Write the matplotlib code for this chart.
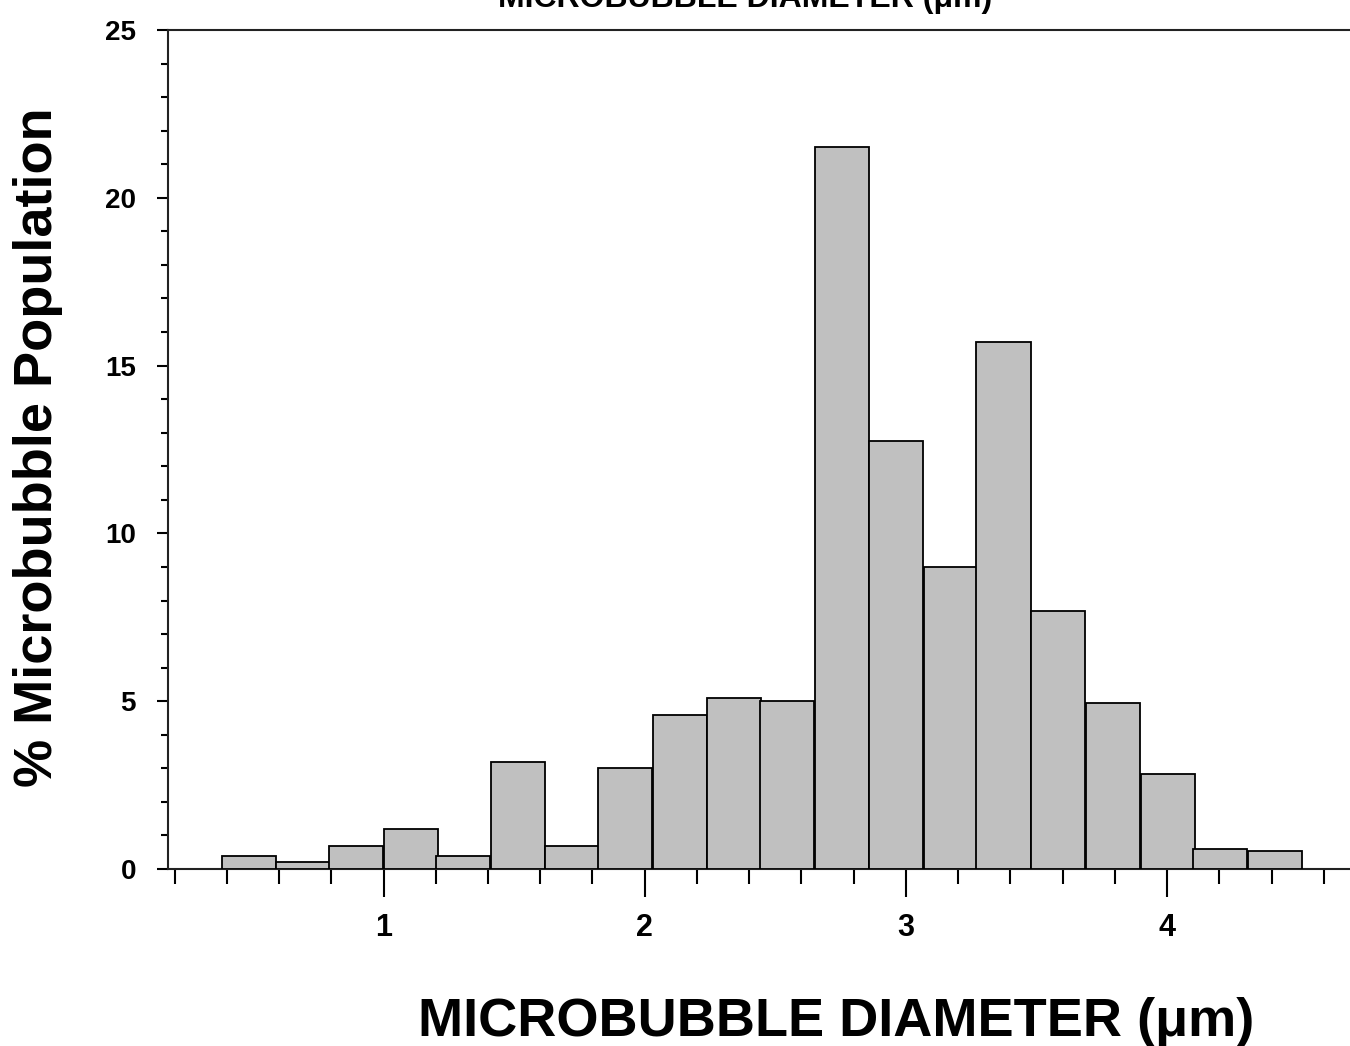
import matplotlib.pyplot as plt
from matplotlib.ticker import MultipleLocator, FixedLocator

# bin left edges (um) and % population
bin_left = [0.38, 0.59, 0.79, 1.00, 1.20, 1.41, 1.62, 1.82, 2.03, 2.24,
            2.44, 2.65, 2.86, 3.07, 3.27, 3.48, 3.69, 3.90, 4.10, 4.31]
population = [0.4, 0.2, 0.7, 1.2, 0.4, 3.2, 0.7, 3.0, 4.6, 5.1,
              5.0, 21.5, 12.75, 9.0, 15.7, 7.7, 4.95, 2.83, 0.6, 0.55]
bin_width = 0.207

x_major = [1, 2, 3, 4]
y_major = [0, 5, 10, 15, 20, 25]

plt.rcParams['font.family'] = ['Liberation Sans', 'DejaVu Sans']
plt.rcParams['font.weight'] = 'bold'

fig = plt.figure(figsize=(13.5, 10.46), dpi=100)
ax = fig.add_axes([168/1350, 1 - 869/1046, 1 - 168/1350, (869 - 30)/1046])

ax.bar(bin_left, population, width=bin_width, align='edge',
       color='#c0c0c0', edgecolor='black', linewidth=1.3, zorder=3)

ax.set_xlim(0.175, 4.70)
ax.set_ylim(0, 25)

ax.xaxis.set_major_locator(FixedLocator(x_major))
ax.xaxis.set_minor_locator(MultipleLocator(0.2))
ax.yaxis.set_major_locator(FixedLocator(y_major))
ax.yaxis.set_minor_locator(MultipleLocator(1))

ax.tick_params(axis='x', which='major', length=20, width=1.5, direction='out',
               labelsize=22, pad=12)
ax.tick_params(axis='x', which='minor', length=11, width=1.5, direction='out')
ax.tick_params(axis='y', which='major', length=8, width=1.5, direction='out',
               labelsize=20, pad=15)
ax.tick_params(axis='y', which='minor', length=5, width=1.5, direction='out')

for lab in ax.get_xticklabels() + ax.get_yticklabels():
    lab.set_fontweight('bold')

ax.spines['right'].set_visible(False)
for s in ['left', 'top', 'bottom']:
    ax.spines[s].set_linewidth(1.5)
    ax.spines[s].set_color('#222222')

fig.text(38/1350, 1 - 447/1046, '% Microbubble Population', fontsize=39,
         fontweight='bold', rotation=90, ha='center', va='center')
fig.text(836/1350, 1 - 1036/1046, 'MICROBUBBLE DIAMETER (\u03bcm)', fontsize=39,
         fontweight='bold', ha='center', va='baseline')

# top label, mostly cut off at the image edge
fig.text(745/1350, 1 - 7/1046, 'MICROBUBBLE DIAMETER (\u03bcm)', fontsize=23,
         fontweight='bold', ha='center', va='baseline')

fig.savefig('out.png', dpi=100)
